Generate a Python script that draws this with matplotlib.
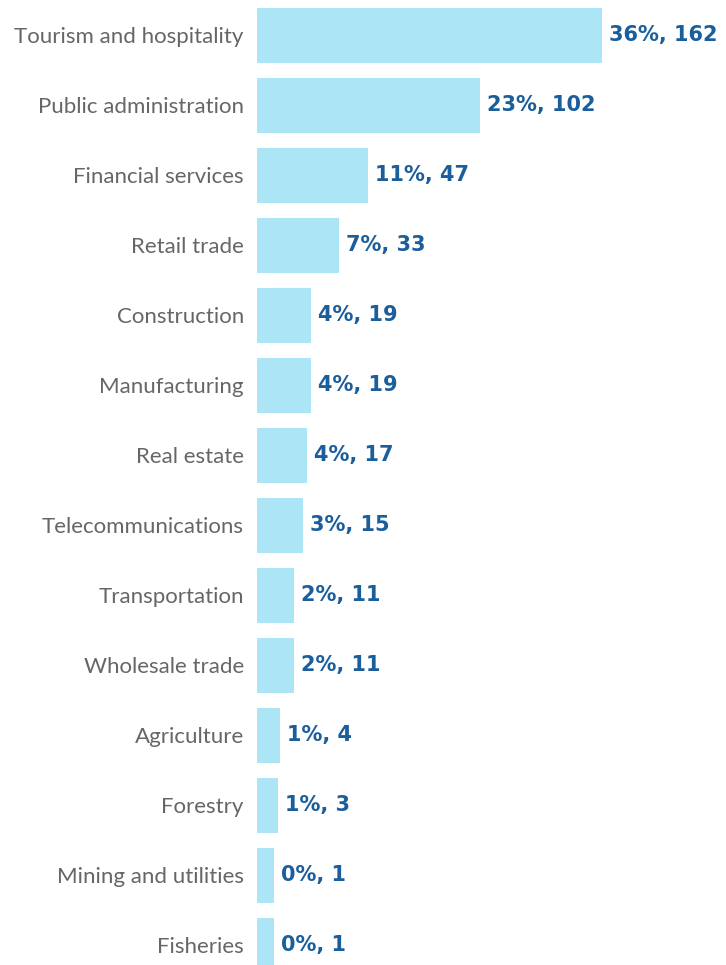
import numpy as np
import matplotlib.pyplot as plt

sectors = ['Tourism and hospitality', 'Public administration', 'Financial services',
           'Retail trade', 'Construction', 'Manufacturing', 'Real estate',
           'Telecommunications', 'Transportation', 'Wholesale trade', 'Agriculture',
           'Forestry', 'Mining and utilities', 'Fisheries']
counts = [162, 102, 47, 33, 19, 19, 17, 15, 11, 11, 4, 3, 1, 1]
percents = [36, 23, 11, 7, 4, 4, 4, 3, 2, 2, 1, 1, 0, 0]

BAR_COLOR = '#ace5f6'
LABEL_COLOR = '#1b5e9c'
TEXT_COLOR = '#666666'
STUB = 7.4  # small stub so that tiny bars stay visible

fig = plt.figure(figsize=(7.26, 9.65), dpi=100)
ax = fig.add_axes([257 / 726, 0, 1 - 257 / 726, 1])

y = np.arange(len(sectors))
ax.barh(y, np.array(counts) + STUB, left=-STUB, height=0.78, color=BAR_COLOR)

for yi, c, p in zip(y, counts, percents):
    ax.annotate(f'{p}%, {c}', xy=(c, yi), xytext=(5, 0), textcoords='offset points',
                va='center', ha='left', fontsize=15, fontweight='bold',
                color=LABEL_COLOR, family='DejaVu Sans')

ax.set_yticks(y)
ax.set_yticklabels(sectors, fontsize=16, color=TEXT_COLOR, family='Lato')
ax.tick_params(axis='y', length=0, pad=9.5)
ax.set_xticks([])
ax.set_xlim(-STUB, -STUB + 469 / 2.035)
ax.set_ylim(13.28, -0.507)
for s in ax.spines.values():
    s.set_visible(False)

fig.savefig('out.png', dpi=100)
